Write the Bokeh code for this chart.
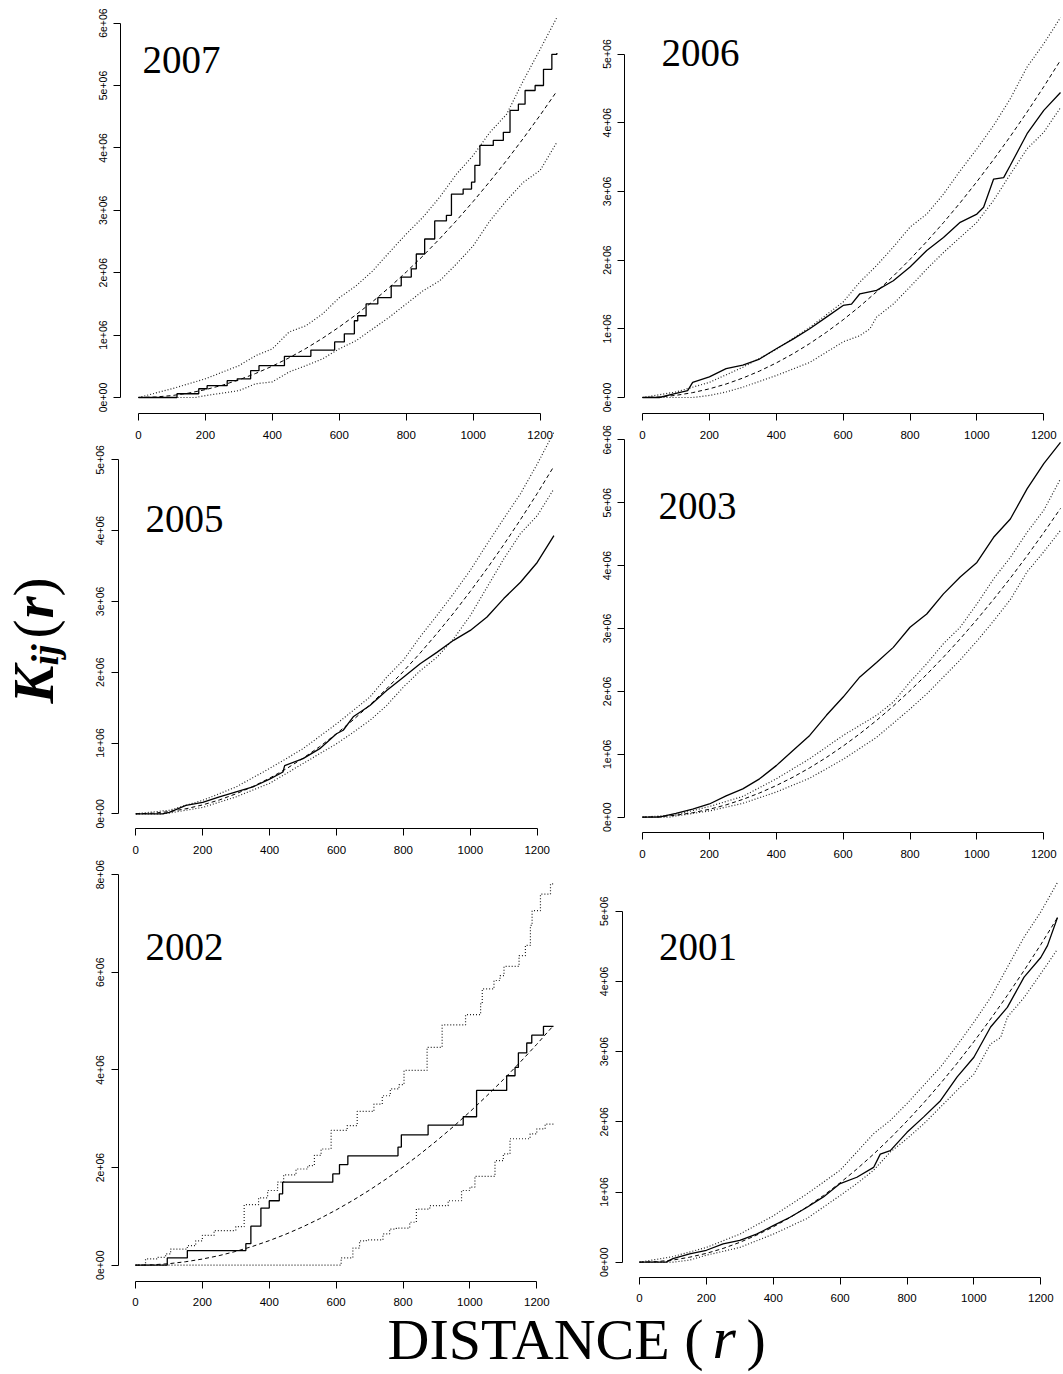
import numpy as np
from bokeh.plotting import figure
from bokeh.models import Range1d, LinearAxis, FixedTicker, Label
from bokeh.embed import file_html
from bokeh.resources import INLINE

# ---------------- data (K values in units of 1e6) ----------------
X_TICKS = [0, 200, 400, 600, 800, 1000, 1200]

# theoretical K (dashed), same in every panel
R_THEO = [0, 50, 100, 150, 200, 250, 300, 350, 400, 450, 500, 550, 600, 650,
          700, 750, 800, 850, 900, 950, 1000, 1050, 1100, 1150, 1200, 1250]
K_THEO = [0, 0.008, 0.031, 0.071, 0.126, 0.196, 0.283, 0.385, 0.503, 0.636,
          0.785, 0.950, 1.131, 1.327, 1.539, 1.767, 2.011, 2.270, 2.545, 2.835,
          3.142, 3.464, 3.801, 4.155, 4.524, 4.909]

# 2007
R_OBS_2007 = [0, 115, 180, 205, 265, 295, 335, 360, 436, 515, 586, 615, 645, 655, 680,
              715, 755, 785, 815, 830, 855, 885, 920, 935, 970, 995, 1005, 1020, 1060,
              1090, 1110, 1135, 1155, 1185, 1210, 1235, 1250]
K_OBS_2007 = [0, 0.06, 0.14, 0.19, 0.27, 0.30, 0.43, 0.51, 0.66, 0.76, 0.89, 1.02, 1.23,
              1.31, 1.50, 1.60, 1.79, 1.93, 2.06, 2.30, 2.54, 2.83, 2.92, 3.26, 3.34,
              3.45, 3.72, 4.04, 4.12, 4.25, 4.60, 4.70, 4.92, 5.00, 5.26, 5.50, 5.52]
R_HI_2007 = [0, 100, 200, 300, 350, 400, 450, 500, 550, 600, 650, 700, 750, 800, 850,
             900, 950, 1000, 1050, 1100, 1150, 1200, 1250]
K_HI_2007 = [0, 0.14, 0.30, 0.51, 0.67, 0.78, 1.05, 1.15, 1.34, 1.60, 1.79, 2.03, 2.33,
             2.62, 2.89, 3.21, 3.58, 3.88, 4.25, 4.54, 5.08, 5.58, 6.09]
R_LO_2007 = [0, 170, 200, 300, 350, 400, 450, 500, 550, 600, 650, 700, 750, 800, 850,
             900, 950, 1000, 1050, 1100, 1150, 1200, 1250]
K_LO_2007 = [0, 0, 0.03, 0.11, 0.22, 0.25, 0.41, 0.51, 0.62, 0.78, 0.91, 1.10, 1.29,
             1.50, 1.71, 1.87, 2.14, 2.43, 2.83, 3.16, 3.45, 3.64, 4.09]

# 2006
R_OBS_2006 = [0, 50, 100, 135, 150, 200, 250, 300, 350, 400, 450, 500, 550, 600, 625,
              650, 700, 750, 800, 850, 900, 950, 1000, 1020, 1050, 1080, 1100, 1150,
              1200, 1250]
K_OBS_2006 = [0, 0, 0.06, 0.10, 0.22, 0.30, 0.42, 0.47, 0.56, 0.71, 0.85, 1.00, 1.17,
              1.34, 1.36, 1.51, 1.56, 1.70, 1.90, 2.14, 2.33, 2.55, 2.67, 2.77, 3.18,
              3.20, 3.38, 3.84, 4.18, 4.44]
R_HI_2006 = [0, 100, 200, 300, 400, 500, 600, 650, 700, 750, 800, 850, 900, 950, 1000,
             1050, 1100, 1150, 1200, 1250]
K_HI_2006 = [0, 0.08, 0.22, 0.44, 0.70, 1.02, 1.39, 1.68, 1.92, 2.19, 2.48, 2.67, 2.96,
             3.30, 3.62, 3.96, 4.35, 4.81, 5.15, 5.53]
R_LO_2006 = [0, 150, 200, 250, 300, 400, 500, 600, 650, 680, 700, 750, 800, 850, 900,
             950, 1000, 1050, 1100, 1150, 1200, 1250]
K_LO_2006 = [0, 0, 0.03, 0.08, 0.15, 0.32, 0.51, 0.81, 0.90, 1.00, 1.17, 1.36, 1.61,
             1.87, 2.11, 2.33, 2.55, 2.87, 3.25, 3.62, 3.86, 4.22]

# 2005
R_OBS_2005 = [0, 80, 100, 150, 200, 250, 300, 350, 400, 440, 445, 500, 550, 600, 620,
              650, 700, 750, 800, 850, 900, 950, 1000, 1050, 1100, 1150, 1200, 1250]
K_OBS_2005 = [0, 0, 0.02, 0.12, 0.16, 0.24, 0.31, 0.38, 0.49, 0.59, 0.68, 0.78, 0.92,
              1.13, 1.18, 1.37, 1.53, 1.74, 1.93, 2.12, 2.28, 2.45, 2.59, 2.78, 3.04,
              3.27, 3.55, 3.93]
R_HI_2005 = [0, 100, 200, 300, 400, 500, 600, 700, 750, 800, 850, 900, 950, 1000, 1050,
             1100, 1150, 1200, 1250]
K_HI_2005 = [0, 0.05, 0.19, 0.38, 0.64, 0.92, 1.27, 1.65, 1.93, 2.17, 2.50, 2.80, 3.11,
             3.44, 3.81, 4.17, 4.52, 4.94, 5.39]
R_LO_2005 = [0, 80, 100, 200, 300, 400, 500, 600, 650, 700, 750, 800, 850, 900, 950,
             1000, 1050, 1100, 1150, 1200, 1250]
K_LO_2005 = [0, 0, 0.01, 0.09, 0.24, 0.43, 0.71, 0.99, 1.15, 1.32, 1.53, 1.79, 2.02,
             2.21, 2.47, 2.80, 3.20, 3.60, 3.96, 4.21, 4.59]

# 2003
R_OBS_2003 = [0, 50, 100, 150, 200, 250, 300, 350, 400, 450, 500, 550, 600, 650, 700,
              750, 800, 850, 900, 950, 1000, 1050, 1100, 1150, 1200, 1250]
K_OBS_2003 = [0, 0, 0.06, 0.13, 0.21, 0.34, 0.45, 0.61, 0.82, 1.06, 1.30, 1.62, 1.91,
              2.23, 2.46, 2.70, 3.02, 3.23, 3.55, 3.82, 4.05, 4.45, 4.74, 5.22, 5.62, 5.96]
R_HI_2003 = [0, 100, 200, 300, 400, 500, 600, 700, 750, 800, 850, 900, 950, 1000, 1050,
             1100, 1150, 1200, 1250]
K_HI_2003 = [0, 0.04, 0.17, 0.33, 0.61, 0.93, 1.30, 1.62, 1.83, 2.15, 2.44, 2.76, 3.02,
             3.39, 3.79, 4.13, 4.53, 4.88, 5.38]
R_LO_2003 = [0, 80, 100, 200, 300, 400, 500, 600, 700, 800, 850, 900, 950, 1000, 1050,
             1100, 1150, 1200, 1250]
K_LO_2003 = [0, 0, 0.02, 0.10, 0.22, 0.40, 0.62, 0.92, 1.27, 1.72, 1.96, 2.23, 2.50,
             2.80, 3.12, 3.46, 3.90, 4.22, 4.56]

# 2002 (step functions)
R_OBS_2002 = [0, 95, 155, 330, 345, 375, 400, 430, 440, 590, 610, 635, 785, 795, 875,
              980, 1020, 1110, 1135, 1145, 1170, 1185, 1220, 1250]
K_OBS_2002 = [0, 0.15, 0.30, 0.44, 0.80, 1.17, 1.32, 1.46, 1.70, 1.87, 2.06, 2.24, 2.42,
              2.67, 2.87, 3.04, 3.58, 3.88, 4.05, 4.35, 4.55, 4.71, 4.89, 4.89]
R_HI_2002 = [0, 30, 65, 90, 105, 155, 180, 200, 235, 300, 325, 368, 395, 425, 443, 480,
             515, 535, 555, 585, 633, 663, 713, 738, 762, 788, 803, 872, 917, 987, 1032,
             1037, 1072, 1090, 1102, 1147, 1166, 1181, 1186, 1211, 1241, 1250]
K_HI_2002 = [0, 0.13, 0.16, 0.23, 0.33, 0.40, 0.50, 0.61, 0.71, 0.79, 1.24, 1.38, 1.53,
             1.70, 1.85, 1.97, 2.04, 2.25, 2.38, 2.76, 2.86, 3.15, 3.30, 3.47, 3.61, 3.70,
             3.99, 4.46, 4.92, 5.13, 5.35, 5.66, 5.83, 5.93, 6.12, 6.34, 6.55, 6.96, 7.26,
             7.60, 7.81, 7.81]
R_LO_2002 = [0, 615, 650, 670, 690, 740, 760, 780, 820, 840, 880, 935, 975, 1000, 1015,
             1075, 1100, 1120, 1180, 1200, 1225, 1250]
K_LO_2002 = [0, 0.15, 0.35, 0.50, 0.52, 0.64, 0.74, 0.76, 0.88, 1.15, 1.22, 1.32, 1.53,
             1.60, 1.82, 2.14, 2.28, 2.59, 2.69, 2.79, 2.89, 2.89]

# 2001
R_OBS_2001 = [0, 80, 100, 150, 200, 250, 300, 350, 400, 450, 500, 550, 600, 650, 700,
              720, 750, 800, 850, 900, 950, 1000, 1050, 1100, 1150, 1200, 1220, 1250]
K_OBS_2001 = [0, 0, 0.05, 0.12, 0.17, 0.26, 0.31, 0.40, 0.52, 0.64, 0.78, 0.93, 1.12,
              1.21, 1.35, 1.54, 1.59, 1.85, 2.07, 2.30, 2.64, 2.92, 3.35, 3.63, 4.06,
              4.34, 4.51, 4.91]
R_HI_2001 = [0, 100, 200, 300, 400, 500, 600, 700, 750, 800, 850, 900, 950, 1000, 1050,
             1100, 1150, 1200, 1250]
K_HI_2001 = [0, 0.08, 0.21, 0.40, 0.66, 0.97, 1.31, 1.83, 2.02, 2.26, 2.52, 2.78, 3.09,
             3.42, 3.77, 4.20, 4.63, 4.99, 5.41]
R_LO_2001 = [0, 100, 150, 200, 300, 400, 500, 600, 650, 700, 750, 800, 850, 900, 950,
             1000, 1050, 1080, 1100, 1150, 1200, 1250]
K_LO_2001 = [0, 0, 0.03, 0.10, 0.21, 0.40, 0.62, 0.95, 1.12, 1.31, 1.57, 1.76, 1.97,
             2.21, 2.45, 2.68, 3.11, 3.20, 3.49, 3.77, 4.11, 4.46]

# y tick values and their labels
Y_TICKS_6 = [0, 1e6, 2e6, 3e6, 4e6, 5e6, 6e6]
Y_LABELS_6 = ["0e+00", "1e+06", "2e+06", "3e+06", "4e+06", "5e+06", "6e+06"]
Y_TICKS_5 = [0, 1e6, 2e6, 3e6, 4e6, 5e6]
Y_LABELS_5 = ["0e+00", "1e+06", "2e+06", "3e+06", "4e+06", "5e+06"]
Y_TICKS_8 = [0, 2e6, 4e6, 6e6, 8e6]
Y_LABELS_8 = ["0e+00", "2e+06", "4e+06", "6e+06", "8e+06"]

# ---------------- layout (page pixel geometry of each panel) ----------------
# px0: page x of r=0, sx: px per unit r, py0: page y of K=0, sy: px per 1e6,
# ax_x: page x of y axis, ax_y: page y of x axis, lab: (left x, baseline y)
GEOM = {
    "2007": dict(px0=138.0, sx=0.3347, py0=397.0, sy=62.4, ax_x=120.3, ax_y=413.3, lab=(142, 72.7), obs_step=True, env_step=False),
    "2006": dict(px0=642.0, sx=0.3344, py0=397.0, sy=68.7, ax_x=624.3, ax_y=413.3, lab=(661, 65.7), obs_step=False, env_step=False),
    "2005": dict(px0=135.3, sx=0.3345, py0=813.3, sy=70.8, ax_x=117.7, ax_y=828.0, lab=(145, 531), obs_step=False, env_step=False),
    "2003": dict(px0=642.0, sx=0.3344, py0=816.7, sy=62.9, ax_x=624.3, ax_y=832.3, lab=(658, 518), obs_step=False, env_step=False),
    "2002": dict(px0=135.0, sx=0.3344, py0=1264.7, sy=48.83, ax_x=117.7, ax_y=1280.7, lab=(145, 959.3), obs_step=True, env_step=True),
    "2001": dict(px0=639.0, sx=0.3344, py0=1261.7, sy=70.2, ax_x=621.7, ax_y=1276.7, lab=(658.5, 959.3), obs_step=False, env_step=False),
}
SERIES = {
    "2007": (R_OBS_2007, K_OBS_2007, R_HI_2007, K_HI_2007, R_LO_2007, K_LO_2007, Y_TICKS_6, Y_LABELS_6),
    "2006": (R_OBS_2006, K_OBS_2006, R_HI_2006, K_HI_2006, R_LO_2006, K_LO_2006, Y_TICKS_5, Y_LABELS_5),
    "2005": (R_OBS_2005, K_OBS_2005, R_HI_2005, K_HI_2005, R_LO_2005, K_LO_2005, Y_TICKS_5, Y_LABELS_5),
    "2003": (R_OBS_2003, K_OBS_2003, R_HI_2003, K_HI_2003, R_LO_2003, K_LO_2003, Y_TICKS_6, Y_LABELS_6),
    "2002": (R_OBS_2002, K_OBS_2002, R_HI_2002, K_HI_2002, R_LO_2002, K_LO_2002, Y_TICKS_8, Y_LABELS_8),
    "2001": (R_OBS_2001, K_OBS_2001, R_HI_2001, K_HI_2001, R_LO_2001, K_LO_2001, Y_TICKS_5, Y_LABELS_5),
}

W, H = 1063, 1374
X0, Y0 = 0, 0
SANS = "Liberation Sans"
SERIF = "Liberation Serif"
BSHIFT = 0.33  # Label anchor correction (fraction of font size) to land on the baseline

p = figure(width=W, height=H, output_backend="svg", toolbar_location=None,
           x_range=Range1d(X0, X0 + W), y_range=Range1d(Y0 + H, Y0),
           x_axis_location=None, y_axis_location=None,
           min_border=0, outline_line_color=None, background_fill_color="white",
           border_fill_color="white")
p.grid.grid_line_color = None

xr, yr = {}, {}
for name, g in GEOM.items():
    xr["x" + name] = Range1d((X0 - g["px0"]) / g["sx"], (X0 + W - g["px0"]) / g["sx"])
    yr["y" + name] = Range1d((g["py0"] - (Y0 + H)) / g["sy"] * 1e6, (g["py0"] - Y0) / g["sy"] * 1e6)
p.extra_x_ranges = xr
p.extra_y_ranges = yr

M = 1e6
for name, g in GEOM.items():
    xn, yn = "x" + name, "y" + name
    ro, ko, rh, kh, rl, kl, yt, yl = SERIES[name]
    kw = dict(x_range_name=xn, y_range_name=yn)
    # envelopes (dotted)
    for rr, kk in ((rh, kh), (rl, kl)):
        if g["env_step"]:
            p.step(rr, np.array(kk) * M, mode="after", line_color="#222222", line_width=1.2,
                   line_dash="1 2", **kw)
        else:
            p.line(rr, np.array(kk) * M, line_color="#222222", line_width=1.2,
                   line_dash="1 2", **kw)
    # theoretical (dashed)
    p.line(R_THEO, np.array(K_THEO) * M, line_color="black", line_width=1.0,
           line_dash="4 3", **kw)
    # observed (solid)
    if g["obs_step"]:
        p.step(ro, np.array(ko) * M, mode="after", line_color="black", line_width=1.3, **kw)
    else:
        p.line(ro, np.array(ko) * M, line_color="black", line_width=1.3, **kw)

    # y axis
    yax = LinearAxis(x_range_name=xn, y_range_name=yn,
                     fixed_location=(g["ax_x"] - g["px0"]) / g["sx"],
                     bounds=(0, yt[-1]), ticker=FixedTicker(ticks=yt),
                     major_label_overrides={float(t): s for t, s in zip(yt, yl)},
                     major_label_orientation="vertical",
                     axis_line_color="black", axis_line_width=1,
                     major_tick_line_color="black", major_tick_out=7, major_tick_in=0,
                     minor_tick_line_color=None,
                     major_label_text_font=SANS, major_label_text_font_size="10.5px",
                     major_label_text_color="black", major_label_standoff=7)
    p.add_layout(yax, "left")
    # x axis
    xax = LinearAxis(x_range_name=xn, y_range_name=yn,
                     fixed_location=(g["py0"] - g["ax_y"]) / g["sy"] * 1e6,
                     bounds=(0, 1200), ticker=FixedTicker(ticks=X_TICKS),
                     axis_line_color="black", axis_line_width=1,
                     major_tick_line_color="black", major_tick_out=7, major_tick_in=0,
                     minor_tick_line_color=None,
                     major_label_text_font=SANS, major_label_text_font_size="11.5px",
                     major_label_text_color="black", major_label_standoff=10)
    p.add_layout(xax, "below")

    # year label
    lx, ly = g["lab"]
    p.add_layout(Label(x=lx, y=ly - BSHIFT * 39, text=name, text_font=SERIF,
                       text_font_size="39px", text_color="black", text_align="left",
                       text_baseline="alphabetic"))

# y-axis title K_ij(r), rotated (baseline at page x ~52)
A = np.pi / 2
def vlabel(text, base_x, start_y, size, style="normal"):
    p.add_layout(Label(x=base_x - BSHIFT * size, y=start_y, text=text, angle=A,
                       text_font=SERIF, text_font_size=f"{size}px", text_font_style=style,
                       text_align="left", text_baseline="alphabetic", text_color="black"))

vlabel("K", 52, 703, 57, "bold italic")
vlabel("ij", 57, 665, 38, "bold italic")
vlabel("(", 52, 638, 57)
vlabel("r", 52, 618, 57, "bold italic")
vlabel(")", 52, 596, 57)

# x-axis title DISTANCE (r)
def hlabel(text, left_x, base_y, size, style="normal"):
    p.add_layout(Label(x=left_x, y=base_y - BSHIFT * size, text=text, text_font=SERIF,
                       text_font_size=f"{size}px", text_font_style=style,
                       text_align="left", text_baseline="alphabetic", text_color="black"))

hlabel("DISTANCE (", 387, 1357.7, 58)
hlabel("r", 712, 1357.7, 60, "italic")
hlabel(")", 746, 1357.7, 58)

open("out.html", "w").write(file_html(p, INLINE))
